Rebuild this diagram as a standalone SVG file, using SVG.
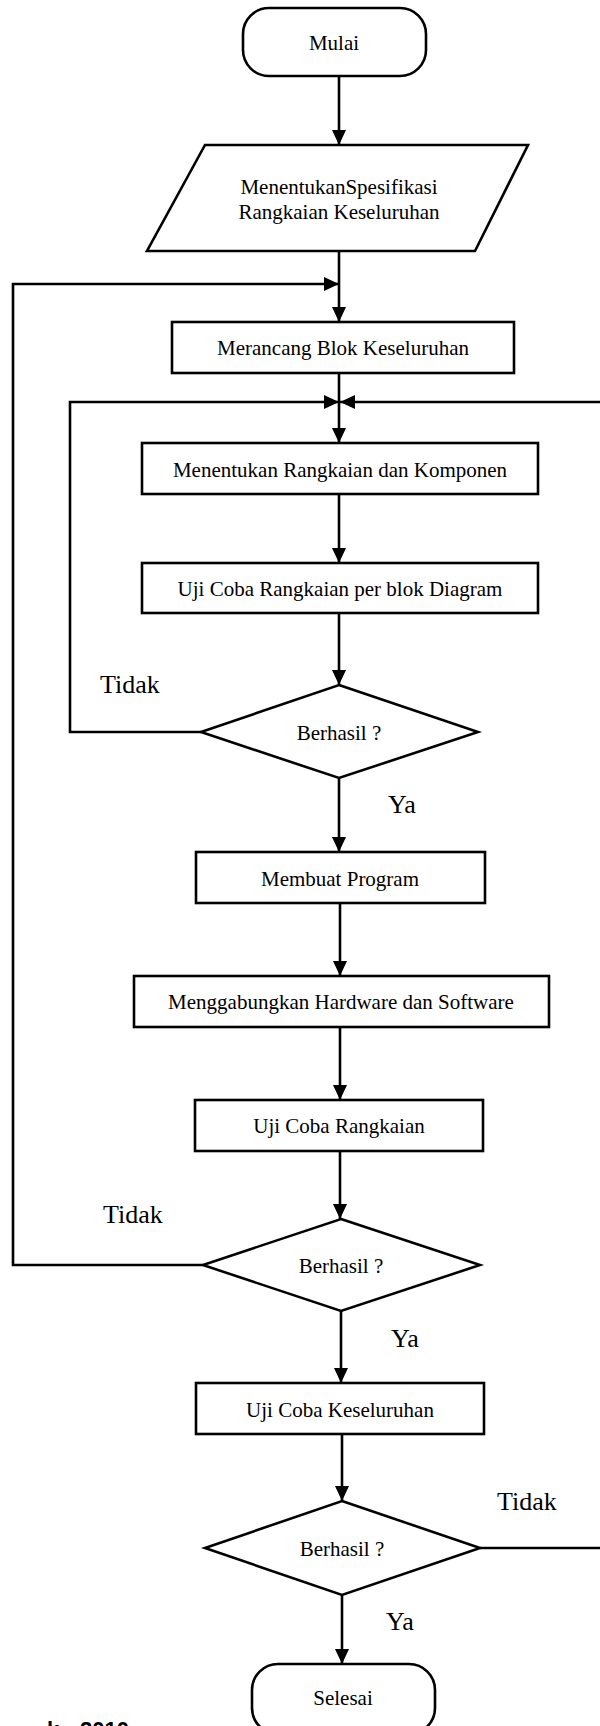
<svg xmlns="http://www.w3.org/2000/svg" width="600" height="1726" viewBox="0 0 600 1726">
<style>
.shape{fill:#fff;stroke:#000;stroke-width:2.6}
.conn{fill:none;stroke:#000;stroke-width:2.6;stroke-linejoin:miter}
.t{font-family:"Liberation Serif","Times New Roman",serif;font-size:21px;fill:#000;text-anchor:middle}
.lbl{font-family:"Liberation Serif","Times New Roman",serif;font-size:26px;fill:#000}
.cap{font-family:"Liberation Sans",Arial,sans-serif;font-size:22px;font-weight:bold;fill:#000}
</style>
<defs>
<marker id="arr" markerUnits="userSpaceOnUse" markerWidth="16" markerHeight="15" refX="15" refY="7" orient="auto">
<path d="M0,0 L15,7 L0,14 z" fill="#000"/>
</marker>
</defs>
<rect width="600" height="1726" fill="#fff"/>
<g id="connectors">
<line class="conn" x1="339" y1="76" x2="339" y2="145" marker-end="url(#arr)"/>
<line class="conn" x1="339" y1="251" x2="339" y2="322" marker-end="url(#arr)"/>
<line class="conn" x1="339" y1="373" x2="339" y2="443" marker-end="url(#arr)"/>
<line class="conn" x1="339" y1="494" x2="339" y2="563" marker-end="url(#arr)"/>
<line class="conn" x1="339" y1="613" x2="339" y2="685" marker-end="url(#arr)"/>
<line class="conn" x1="339" y1="778" x2="339" y2="852" marker-end="url(#arr)"/>
<line class="conn" x1="340" y1="903" x2="340" y2="976" marker-end="url(#arr)"/>
<line class="conn" x1="340" y1="1027" x2="340" y2="1100" marker-end="url(#arr)"/>
<line class="conn" x1="340" y1="1151" x2="340" y2="1219" marker-end="url(#arr)"/>
<line class="conn" x1="341" y1="1311" x2="341" y2="1383" marker-end="url(#arr)"/>
<line class="conn" x1="342" y1="1434" x2="342" y2="1501" marker-end="url(#arr)"/>
<line class="conn" x1="342" y1="1595" x2="342" y2="1664" marker-end="url(#arr)"/>
<polyline class="conn" points="203,1265 13,1265 13,284 339,284" marker-end="url(#arr)"/>
<polyline class="conn" points="201,732 70,732 70,402 339,402" marker-end="url(#arr)"/>
<polyline class="conn" points="480,1548 604,1548 604,402 340,402" marker-end="url(#arr)"/>
</g>
<g id="mulai">
<rect class="shape" x="243" y="8" width="183" height="68" rx="26" ry="26"/>
<text class="t" x="334" y="50">Mulai</text>
</g>
<g id="spesifikasi">
<polygon class="shape" points="205,145 528,145 475,251 147,251"/>
<text class="t" x="339" y="194">MenentukanSpesifikasi</text>
<text class="t" x="339" y="219">Rangkaian Keseluruhan</text>
</g>
<g id="merancang">
<rect class="shape" x="172" y="322" width="342" height="51"/>
<text class="t" x="343" y="355">Merancang Blok Keseluruhan</text>
</g>
<g id="menentukan">
<rect class="shape" x="142" y="443" width="396" height="51"/>
<text class="t" x="340" y="477">Menentukan Rangkaian dan Komponen</text>
</g>
<g id="ujiblok">
<rect class="shape" x="142" y="563" width="396" height="50"/>
<text class="t" x="340" y="596">Uji Coba Rangkaian per blok Diagram</text>
</g>
<g id="berhasil1">
<polygon class="shape" points="339,685 478,732 339,778 201,732"/>
<text class="t" x="339" y="740">Berhasil ?</text>
<text class="lbl" x="100" y="693">Tidak</text>
<text class="lbl" x="388" y="813">Ya</text>
</g>
<g id="membuat">
<rect class="shape" x="196" y="852" width="289" height="51"/>
<text class="t" x="340" y="886">Membuat Program</text>
</g>
<g id="menggabungkan">
<rect class="shape" x="134" y="976" width="415" height="51"/>
<text class="t" x="341" y="1009">Menggabungkan Hardware dan Software</text>
</g>
<g id="ujirangkaian">
<rect class="shape" x="195" y="1100" width="288" height="51"/>
<text class="t" x="339" y="1133">Uji Coba Rangkaian</text>
</g>
<g id="berhasil2">
<polygon class="shape" points="341,1219 480,1265 341,1311 203,1265"/>
<text class="t" x="341" y="1273">Berhasil ?</text>
<text class="lbl" x="103" y="1223">Tidak</text>
<text class="lbl" x="391" y="1347">Ya</text>
</g>
<g id="ujikeseluruhan">
<rect class="shape" x="196" y="1383" width="288" height="51"/>
<text class="t" x="340" y="1417">Uji Coba Keseluruhan</text>
</g>
<g id="berhasil3">
<polygon class="shape" points="342,1501 480,1548 342,1595 205,1548"/>
<text class="t" x="342" y="1556">Berhasil ?</text>
<text class="lbl" x="497" y="1510">Tidak</text>
<text class="lbl" x="386" y="1630">Ya</text>
</g>
<g id="selesai">
<rect class="shape" x="252" y="1664" width="183" height="70" rx="26" ry="26"/>
<text class="t" x="343" y="1705">Selesai</text>
</g>
<text class="cap" y="1737"><tspan x="47">k</tspan><tspan x="80">2010</tspan></text>
</svg>
